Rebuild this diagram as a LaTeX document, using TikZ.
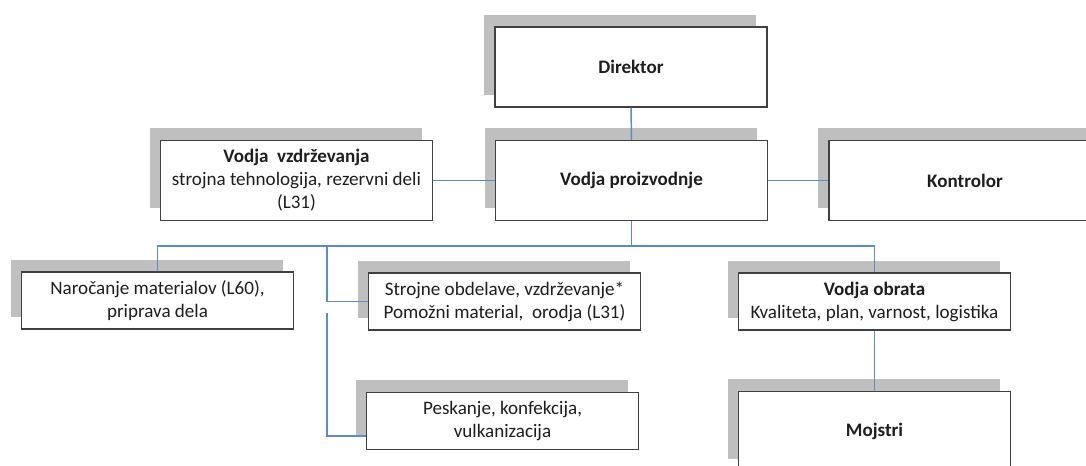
\documentclass[tikz,border=0pt]{standalone}
\usepackage{fontspec}
\setmainfont{Carlito}
\usetikzlibrary{shadows,calc}
\definecolor{boxline}{HTML}{404040}
\definecolor{shade}{HTML}{BFBFBF}
\definecolor{linkblue}{HTML}{5B8CCB}
\definecolor{ink}{HTML}{1E1E1E}

\begin{document}
\begin{tikzpicture}[x=0.75pt,y=-0.75pt,
  orgbox/.style={draw=boxline, line width=1.1pt, fill=white,
    minimum width=204pt, text=ink, align=center, inner sep=0pt,
    font=\fontsize{14.3}{17.25}\selectfont,
    general shadow={fill=shade, shadow xshift=-8.25pt, shadow yshift=9pt}},
  tallbox/.style={orgbox, minimum height=60pt},
  shortbox/.style={orgbox, minimum height=42.75pt},
  wire/.style={draw=linkblue, line width=1.1pt}]

\useasboundingbox (0,0) rectangle (1086,466);
\begin{scope}
\clip (0,0) rectangle (1086,466);

% boxes
\node[tallbox] (dir) at (631,67) {\bfseries Direktor};
\node[tallbox] (prod) at (631.5,180.5) {\bfseries Vodja proizvodnje};
\node[tallbox] (vzd) at (296.5,180.5) {{\bfseries Vodja\ \ vzdrževanja}\\strojna tehnologija, rezervni deli\\(L31)};
\node[tallbox] (kon) at (965,180.5) {\bfseries Kontrolor};
\node[shortbox] (nar) at (157.5,300.5) {Naročanje materialov (L60),\\priprava dela};
\node[shortbox] (str) at (504.5,301.5) {Strojne obdelave, vzdrževanje*\\Pomožni material,\ \ orodja (L31)};
\node[shortbox] (obr) at (874.5,301.5) {{\bfseries Vodja obrata}\\Kvaliteta, plan, varnost, logistika};
\node[shortbox] (pes) at (502.5,421) {Peskanje, konfekcija,\\vulkanizacija};
\node[tallbox] (moj) at (874.5,431.5) {\bfseries Mojstri};

% bus level and branch points
\coordinate (bus) at (0,246);
\coordinate (tap) at (327,246);
\coordinate (tap2) at (327,313);

% connectors
\draw[wire] (dir.south) -- (prod.north);
\draw[wire] (vzd.east) -- (prod.west);
\draw[wire] (prod.east) -- (kon.west);
\draw[wire] (prod.south) -- (prod.south |- bus) -| (nar.north);
\draw[wire] (prod.south |- bus) -| (obr.north);
\draw[wire] (tap) |- (str.west);
\draw[wire] (tap2) |- ($(pes.west)+(0,15)$);
\draw[wire] (obr.south) -- (moj.north);
\end{scope}
\end{tikzpicture}
\end{document}
